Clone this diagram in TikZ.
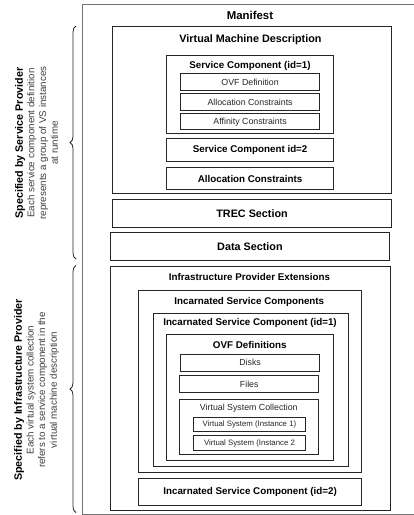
\documentclass[tikz,border=0pt]{standalone}
\usepackage{fontspec}
\setmainfont{Liberation Sans}
\usetikzlibrary{decorations.pathreplacing}
\begin{document}
\begin{tikzpicture}[x=1pt,y=-1pt,
  box/.style={draw=black!85,line width=0.9pt,anchor=north west,inner sep=0pt},
  outerbox/.style={draw=black!55,line width=1pt},
  bigtitle/.style={font=\fontsize{10.8}{12}\selectfont\bfseries,inner sep=0pt},
  midtitle/.style={font=\fontsize{9.8}{11}\selectfont\bfseries,inner sep=0pt},
  smalltxt/.style={font=\fontsize{8.8}{10}\selectfont,text=black!85,inner sep=0pt},
  tinytxt/.style={font=\fontsize{7.8}{9}\selectfont,text=black!85,inner sep=0pt},
  sidetxt/.style={rotate=90,align=center,inner sep=0pt,text=black!75,
    font=\fontsize{9.8}{11.7}\selectfont},
  bracestyle/.style={draw=black!85,line width=0.8pt,decorate,
    decoration={brace,amplitude=6pt}}
]
\useasboundingbox (0,0) rectangle (414,515);
\clip (0,0) rectangle (414,515);
\fill[white] (0,0) rectangle (414,515);

% Manifest outer box
\coordinate (mtl) at (82.5,4.5);
\coordinate (mbr) at (430,514);
\draw[outerbox] (mtl) rectangle (mbr);
\node[bigtitle,font=\fontsize{11.4}{12}\selectfont\bfseries] (manifest) at (250,15) {Manifest};

% helper macro for boxes
\newcommand{\bx}[5]{\node[box,minimum width={#4-#2},minimum height={#5-#3}] (#1) at (#2,#3) {};}

\bx{vmd}{112.3}{26}{391}{193.3}
\node[bigtitle] (vmdt) at (250.5,39.3) {Virtual Machine Description};
\bx{sc1}{166}{55}{333.3}{132.7}
\node[midtitle] (sc1t) at (250,65.7) {Service Component (id=1)};
\bx{ovf}{180}{73.3}{319.3}{90}
\node[smalltxt] at (ovf.center) {OVF Definition};
\bx{alloc1}{180}{93.3}{319.3}{110}
\node[smalltxt] at (alloc1.center) {Allocation Constraints};
\bx{aff}{180}{113.3}{319.3}{129.3}
\node[smalltxt] at (aff.center) {Affinity Constraints};
\bx{sc2}{166}{138.3}{333.3}{160.7}
\node[midtitle] at (sc2.center) {Service Component id=2};
\bx{alloc2}{166}{167.3}{333.3}{189.3}
\node[midtitle] at (alloc2.center) {Allocation Constraints};
\bx{trec}{112.3}{199}{391}{226.7}
\node[bigtitle] at (trec.center) {TREC Section};
\bx{data}{110}{232}{389}{259.7}
\node[bigtitle] at (data.center) {Data Section};

\bx{ipe}{110.3}{265.7}{389.5}{509.5}
\node[midtitle] (ipet) at (249.5,276.7) {Infrastructure Provider Extensions};
\bx{iscs}{137.7}{289.7}{361}{471.7}
\node[midtitle] (iscst) at (249.3,301.7) {Incarnated Service Components};
\bx{isc1}{152.7}{312.7}{347.7}{466}
\node[midtitle] (isc1t) at (250,322.7) {Incarnated Service Component (id=1)};
\bx{ovfd}{166}{334.3}{333.3}{460}
\node[midtitle] (ovfdt) at (249.7,345) {OVF Definitions};
\bx{disks}{180}{353.7}{319.3}{370.7}
\node[smalltxt] at (disks.center) {Disks};
\bx{files}{179.3}{375.3}{318.3}{392}
\node[smalltxt] at (files.center) {Files};
\bx{vsc}{179.3}{399}{318.3}{454.3}
\node[smalltxt] (vsct) at (248.8,408.3) {Virtual System Collection};
\bx{vs1}{193.3}{417}{304.7}{430.7}
\node[tinytxt] at (vs1.center) {Virtual System (Instance 1)};
\bx{vs2}{193.3}{435.3}{304.7}{450}
\node[tinytxt] at (vs2.center) {Virtual System (Instance 2};
\bx{isc2}{138.3}{477.7}{361}{505}
\node[midtitle] at (isc2.center) {Incarnated Service Component (id=2)};

% braces
\coordinate (b1s) at (76,259);
\coordinate (b1e) at (76,26);
\coordinate (b2s) at (76,512.5);
\coordinate (b2e) at (76,265.5);
\draw[bracestyle] (b1s) -- (b1e);
\draw[bracestyle] (b2s) -- (b2e);

% side texts
\node[sidetxt] (sp) at (36.5,143) {{\bfseries\color{black}\fontsize{10.7}{12.5}\selectfont Specified by Service Provider}\\
Each service component definition\\ represents a group of VS instances\\ at runtime};
\node[sidetxt] (ip) at (36.5,390) {{\bfseries\color{black}\fontsize{10.7}{12.5}\selectfont Specified by Infrastructure Provider}\\
Each virtual system collection\\ refers to a service component in the\\ virtual machine description};
\end{tikzpicture}
\end{document}
